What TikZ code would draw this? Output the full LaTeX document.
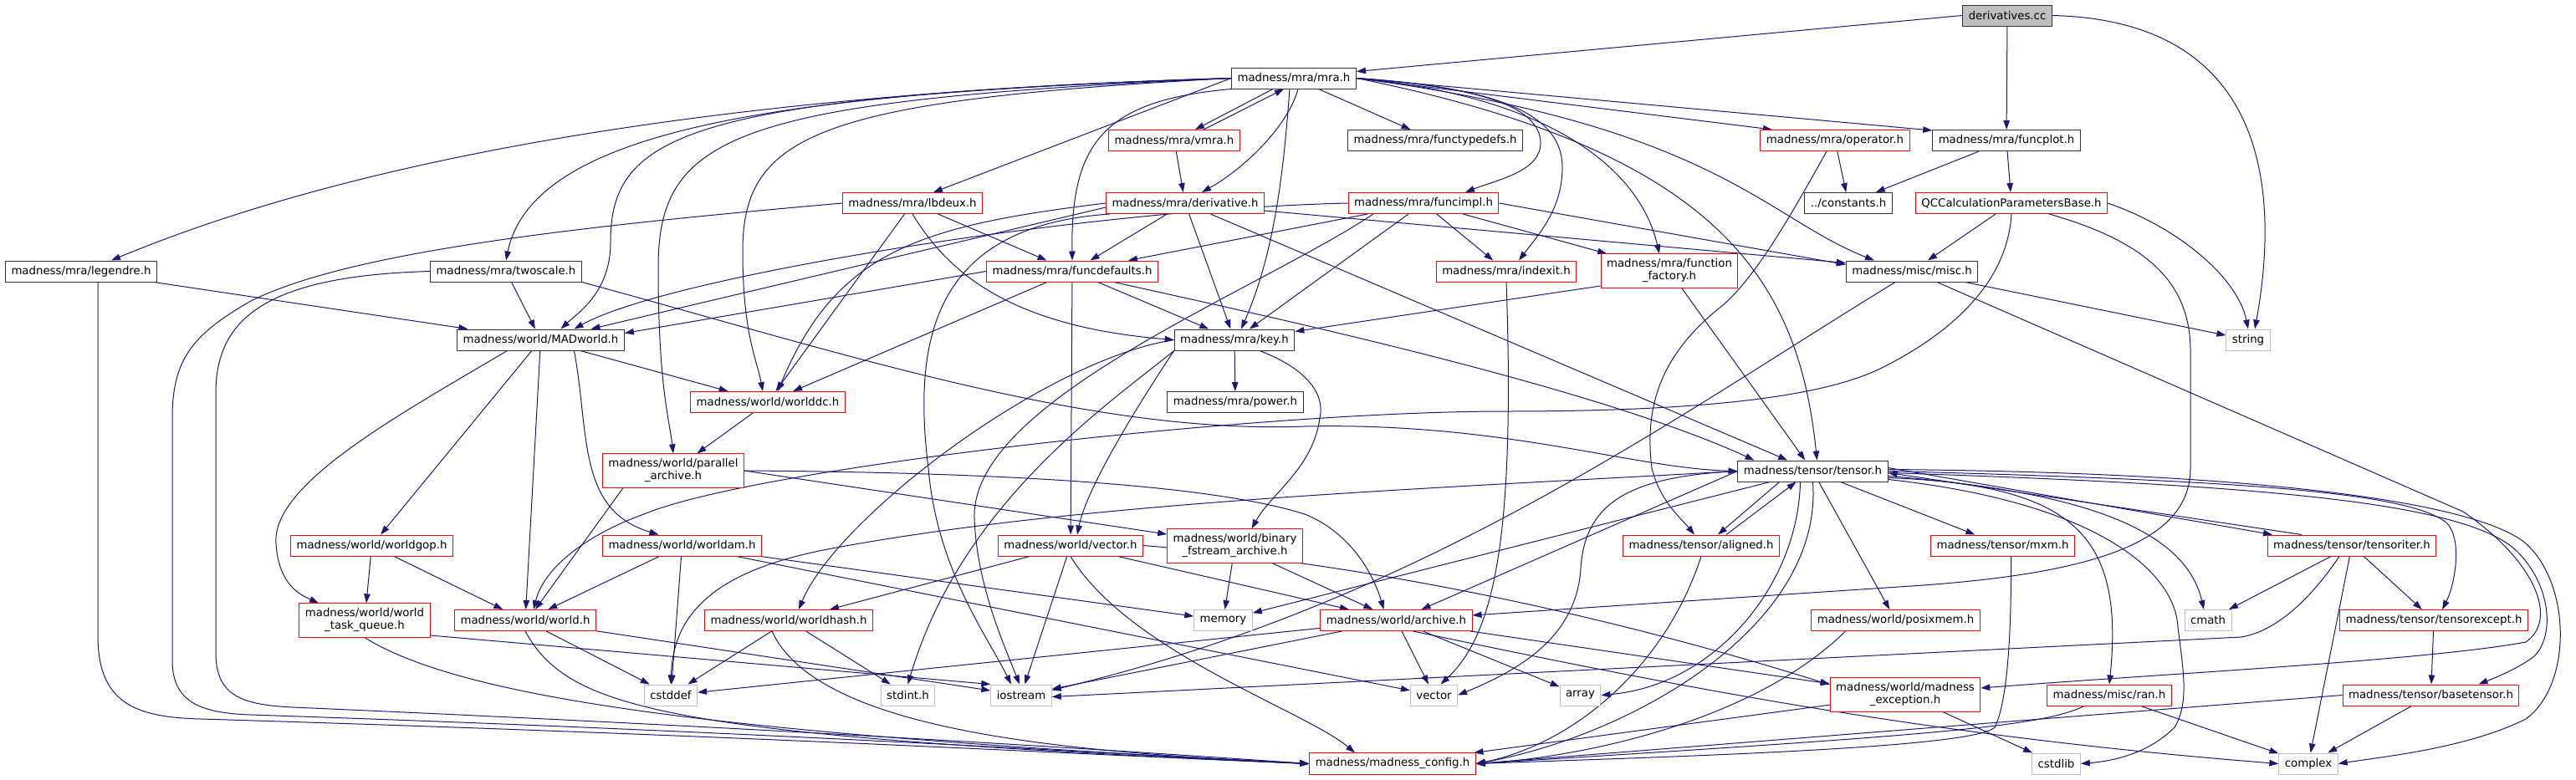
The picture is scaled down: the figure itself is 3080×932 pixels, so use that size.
\documentclass[tikz,border=0pt]{standalone}
\usepackage{fontspec}
\setmainfont{DejaVu Sans}
\usetikzlibrary{arrows.meta,backgrounds}
\definecolor{edgeblue}{HTML}{191970}
\definecolor{linkred}{HTML}{FF0000}
\definecolor{sysgrey}{HTML}{BFBFBF}
\definecolor{boxink}{HTML}{333333}

\begin{document}
\begin{tikzpicture}[x=1pt,y=-1pt,font=\fontsize{13.3}{15}\selectfont,
  hfile/.style={draw=boxink,fill=white,line width=1pt,minimum height=25pt,
                inner xsep=7pt,inner ysep=6pt,align=center},
  redfile/.style={hfile,draw=linkred},
  sysfile/.style={hfile,draw=sysgrey},
  rootfile/.style={hfile,fill=sysgrey},
  dep/.style={-{Triangle[length=11pt,width=7.5pt]},draw=edgeblue,line width=1pt}]

  \useasboundingbox (0,0) rectangle (3080,932);

  % source file and mra headers
  \node[rootfile] (dcc)   at (2400,18.5) {derivatives.cc};
  \node[hfile]    (mra)   at (1547,93.5) {madness/mra/mra.h};
  \node[redfile]  (vmra)  at (1404,168)  {madness/mra/vmra.h};
  \node[hfile]    (ftd)   at (1716,168)  {madness/mra/functypedefs.h};
  \node[redfile]  (oper)  at (2194,168)  {madness/mra/operator.h};
  \node[hfile]    (fplot) at (2399,168)  {madness/mra/funcplot.h};
  \node[redfile]  (lbdeux) at (1091,243) {madness/mra/lbdeux.h};
  \node[redfile]  (deriv) at (1417,243)  {madness/mra/derivative.h};
  \node[redfile]  (fimpl) at (1702,243)  {madness/mra/funcimpl.h};
  \node[hfile]    (const) at (2210,243)  {../constants.h};
  \node[redfile]  (qcc)   at (2405,243)  {QCCalculationParametersBase.h};
  \node[hfile]    (leg)   at (97,324.5)  {madness/mra/legendre.h};
  \node[hfile]    (twosc) at (605,324.5) {madness/mra/twoscale.h};
  \node[redfile]  (fdef)  at (1282,324.5) {madness/mra/funcdefaults.h};
  \node[redfile]  (idx)   at (1801,324.5) {madness/mra/indexit.h};
  \node[redfile]  (ffac)  at (1996,324)  {madness/mra/function\\\_factory.h};
  \node[hfile]    (misc)  at (2286,324.5) {madness/misc/misc.h};
  \node[hfile]    (key)   at (1476,406.5) {madness/mra/key.h};
  \node[hfile]    (pow)   at (1477,481)  {madness/mra/power.h};

  % world headers
  \node[hfile]    (madw)  at (646.5,406.5) {madness/world/MADworld.h};
  \node[redfile]  (wdc)   at (918,481)   {madness/world/worlddc.h};
  \node[redfile]  (par)   at (805,563)   {madness/world/parallel\\\_archive.h};
  \node[redfile]  (wgop)  at (444.5,652.5) {madness/world/worldgop.h};
  \node[redfile]  (wam)   at (815.5,652.5) {madness/world/worldam.h};
  \node[redfile]  (vec)   at (1280,652.5) {madness/world/vector.h};
  \node[redfile]  (bfa)   at (1476.5,653) {madness/world/binary\\\_fstream\_archive.h};
  \node[redfile]  (wtq)   at (436,742)   {madness/world/world\\\_task\_queue.h};
  \node[redfile]  (world) at (628,742)   {madness/world/world.h};
  \node[redfile]  (whash) at (943,742)   {madness/world/worldhash.h};
  \node[redfile]  (arch)  at (1669.5,742) {madness/world/archive.h};
  \node[redfile]  (posix) at (2266.5,742) {madness/world/posixmem.h};
  \node[redfile]  (mexc)  at (2278,831)  {madness/world/madness\\\_exception.h};
  \node[redfile]  (mcfg)  at (1665,913.5) {madness/madness\_config.h};

  % tensor headers
  \node[hfile]    (tens)  at (2167.5,563.5) {madness/tensor/tensor.h};
  \node[redfile]  (alig)  at (2034,652.5) {madness/tensor/aligned.h};
  \node[redfile]  (mxm)   at (2394.5,652.5) {madness/tensor/mxm.h};
  \node[redfile]  (titer) at (2812,652.5) {madness/tensor/tensoriter.h};
  \node[redfile]  (texc)  at (2910,742)  {madness/tensor/tensorexcept.h};
  \node[redfile]  (ran)   at (2522,831.5) {madness/misc/ran.h};
  \node[redfile]  (btens) at (2906.5,831.5) {madness/tensor/basetensor.h};

  % system headers
  \node[sysfile]  (str)     at (2688,406.5) {string};
  \node[sysfile]  (mem)     at (1462.5,742) {memory};
  \node[sysfile]  (cmath)   at (2640,742)  {cmath};
  \node[sysfile]  (cstddef) at (802,831.5) {cstddef};
  \node[sysfile]  (stdint)  at (1085.5,831.5) {stdint.h};
  \node[sysfile]  (iostr)   at (1221,831.5) {iostream};
  \node[sysfile]  (stdvec)  at (1714.5,831.5) {vector};
  \node[sysfile]  (array)   at (1889.5,831.5) {array};
  \node[sysfile]  (cstdlib) at (2458.5,913.5) {cstdlib};
  \node[sysfile]  (cplx)    at (2760,913.5) {complex};

  \begin{scope}[on background layer]
  % plain includes
  \foreach \src/\dst in {dcc/fplot, mra/ftd, vmra/deriv, lbdeux/fdef, lbdeux/wdc,
      deriv/fdef, deriv/key, deriv/tens, fimpl/key, fimpl/fdef, fimpl/idx, fimpl/ffac,
      fdef/wdc, fdef/key, fdef/vec, twosc/madw, leg/madw, madw/wgop, madw/world,
      madw/wdc, wdc/par, key/pow, ffac/tens, oper/const, fplot/const, fplot/qcc,
      qcc/misc, misc/str, tens/mxm, tens/posix, tens/mem, titer/cmath, titer/texc,
      titer/cplx, texc/btens, btens/cplx, ran/cplx, mexc/mcfg, mexc/cstdlib,
      wgop/wtq, wgop/world, world/cstddef, world/iostr, wam/world, wam/cstddef,
      wam/mem, wam/stdvec, whash/cstddef, whash/stdint, vec/whash, vec/iostr,
      vec/arch, bfa/mem, bfa/arch, arch/cstddef, arch/iostr, arch/stdvec,
      arch/array, arch/mexc}
    \draw[dep] (\src) -- (\dst);

  % from derivatives.cc and mra.h
  \draw[dep] (dcc.west) -- ([yshift=8pt]mra.east);
  \draw[dep] (dcc.east) .. controls (2725,25) and (2722,250) .. ([xshift=8pt]str.north);
  \draw[dep] (mra.west) -- ([xshift=25pt]lbdeux.north);
  \draw[dep] ([xshift=-25pt]mra.south) -- ([xshift=25pt]vmra.north);
  \draw[dep] ([xshift=35pt]vmra.north) -- ([xshift=-12pt]mra.south);
  \draw[dep] (mra.east) -- ([xshift=-75pt]oper.north);
  \draw[dep] (mra.east) -- ([yshift=12pt]fplot.west);
  \draw[dep] (mra.west) .. controls (900,110) and (450,180) .. ([xshift=36pt]leg.north);
  \draw[dep] (mra.west) .. controls (1000,110) and (640,140) .. (twosc.north);
  \draw[dep] (mra.west) .. controls (820,115) and (730,160) .. (730,290)
             .. controls (730,350) and (690,375) .. ([xshift=24pt]madw.north);
  \draw[dep] (mra.west) .. controls (880,120) and (787,160) .. (787,320)
             .. controls (787,460) and (800,500) .. (par.north);
  \draw[dep] (mra.west) .. controls (980,120) and (888,160) .. (888,300)
             .. controls (888,400) and (905,430) .. ([xshift=-6pt]wdc.north);
  \draw[dep] (mra.south west) .. controls (1320,120) and (1280,170) .. (fdef.north);
  \draw[dep] ([xshift=5pt]mra.south) .. controls (1540,150) and (1490,200) .. ([xshift=20pt]deriv.north);
  \draw[dep] ([xshift=-5pt]mra.south) .. controls (1535,200) and (1525,300) .. ([xshift=8pt]key.north);
  \draw[dep] (mra.east) .. controls (1780,105) and (1840,130) .. (1842,170)
             .. controls (1843,205) and (1790,215) .. ([xshift=50pt]fimpl.north);
  \draw[dep] (mra.east) .. controls (1800,105) and (1868,140) .. (1868,200)
             .. controls (1868,250) and (1840,280) .. ([xshift=15pt]idx.north);
  \draw[dep] (mra.east) .. controls (1850,115) and (1960,200) .. ([xshift=-12pt]ffac.north);
  \draw[dep] (mra.east) .. controls (2050,150) and (2110,260) .. ([xshift=-45pt]misc.north);
  \draw[dep] (mra.east) .. controls (2050,180) and (2150,330) .. ([xshift=5pt]tens.north);

  % mra layer
  \draw[dep] (qcc.east) .. controls (2600,270) and (2675,330) .. (str.north);
  \draw[dep] (lbdeux.south) .. controls (1130,320) and (1200,390) .. (key.west);
  \draw[dep] (fimpl.west) .. controls (1300,250) and (800,330) .. ([xshift=40pt]madw.north);
  \draw[dep] ([yshift=-5pt]deriv.west) -- ([xshift=60pt]madw.north);
  \draw[dep] (fdef.west) -- ([yshift=8pt]madw.east);
  \draw[dep] (deriv.west) .. controls (1100,270) and (1000,300) .. ([xshift=12pt]wdc.north);
  \draw[dep] ([xshift=-90pt]deriv.south) .. controls (1120,270) and (1090,400) .. (1110,560)
             .. controls (1120,680) and (1180,760) .. ([xshift=-12pt]iostr.north);
  \draw[dep] ([xshift=-60pt]fimpl.south) .. controls (1500,350) and (1160,480) .. (1165,620)
             .. controls (1168,700) and (1200,770) .. ([xshift=-2pt]iostr.north);
  \draw[dep] ([yshift=-9pt]deriv.east) -- ([yshift=10pt]misc.west);
  \draw[dep] (fimpl.east) -- ([yshift=8pt]misc.west);
  \draw[dep] ([xshift=50pt]fdef.south) .. controls (1500,375) and (1900,460) .. ([xshift=-70pt]tens.north);
  \draw[dep] (twosc.south east) .. controls (1000,420) and (1300,520) .. (1560,510)
             .. controls (1800,505) and (1950,560) .. (tens.west);
  \draw[dep] ([yshift=-18pt]ffac.west) -- ([yshift=10pt]key.east);
  \draw[dep] ([xshift=-10pt]oper.south) .. controls (2140,260) and (2100,330) .. (2060,365)
             .. controls (1990,420) and (1965,480) .. (1975,560)
             .. controls (1985,600) and (2010,620) .. ([xshift=-8pt]alig.north);
  \draw[dep] (qcc.south) .. controls (2400,340) and (2330,400) .. (2250,440)
             .. controls (2170,480) and (2000,492) .. (1800,492)
             .. controls (1500,492) and (900,560) .. (770,615)
             .. controls (700,640) and (650,680) .. ([xshift=10pt]world.north);
  \draw[dep] ([xshift=45pt]qcc.south) .. controls (2570,290) and (2619,340) .. (2619,420)
             -- (2619,560) .. controls (2619,650) and (2500,685) .. (2300,700)
             -- ([yshift=6pt]arch.east);
  \draw[dep] ([xshift=30pt]misc.south) -- (2945,612) .. controls (3030,670) and (3060,740) .. (3020,768)
             .. controls (2900,790) and (2600,805) .. ([yshift=8pt]mexc.east);
  \draw[dep] ([xshift=-20pt]misc.south) .. controls (2000,500) and (1700,720) .. ([yshift=6pt]iostr.east);

  % long ones down the left side
  \draw[dep] ([xshift=20pt]leg.south) .. controls (117,450) and (117,600) .. (117,760)
             .. controls (117,840) and (160,858) .. (240,860)
             .. controls (900,880) and (1300,903) .. (mcfg.west);
  \draw[dep] (lbdeux.west) .. controls (700,270) and (420,300) .. (300,360)
             .. controls (230,400) and (206,430) .. (206,500) -- (206,790)
             .. controls (206,840) and (240,853) .. (300,855)
             .. controls (900,875) and (1300,900) .. (mcfg.west);
  \draw[dep] (twosc.west) .. controls (320,330) and (258,380) .. (258,470) -- (258,780)
             .. controls (258,830) and (285,843) .. (350,846)
             .. controls (900,870) and (1300,895) .. (mcfg.west);

  % world layer
  \draw[dep] ([xshift=-40pt]madw.south) .. controls (470,500) and (325,580) .. (330,650)
             .. controls (333,700) and (360,712) .. ([xshift=-55pt]wtq.north);
  \draw[dep] ([xshift=40pt]madw.south) .. controls (705,520) and (690,610) .. ([xshift=-28pt]wam.north);
  \draw[dep] ([xshift=-60pt]par.south) -- ([xshift=12pt]world.north);
  \draw[dep] (par.east) -- ([yshift=14pt]bfa.west);
  \draw[dep] (par.east) .. controls (1200,565) and (1450,580) .. (1560,615)
             .. controls (1610,635) and (1640,680) .. ([xshift=-15pt]arch.north);
  \draw[dep] (key.west) .. controls (1250,430) and (1000,620) .. ([xshift=12pt]whash.north);
  \draw[dep] (key.south west) .. controls (1370,470) and (1300,580) .. ([xshift=8pt]vec.north);
  \draw[dep] (key.south west) .. controls (1330,480) and (1150,600) .. (stdint.north);
  \draw[dep] ([xshift=30pt]key.south) .. controls (1560,440) and (1585,470) .. (1578,500)
             .. controls (1570,560) and (1520,590) .. ([xshift=20pt]bfa.north);
  \draw[dep] (idx.south) .. controls (1812,650) and (1785,760) .. ([xshift=8pt]stdvec.north);
  \draw[dep] ([yshift=-18pt]wtq.east) -- (iostr.north west);
  \draw[dep] (wtq.south) .. controls (560,840) and (900,880) .. (mcfg.west);
  \draw[dep] (world.south) .. controls (680,850) and (800,880) .. (mcfg.west);
  \draw[dep] ([xshift=-20pt]whash.south) .. controls (980,880) and (1300,900) .. (mcfg.west);
  \draw[dep] (vec.south) .. controls (1350,780) and (1560,850) .. ([xshift=-45pt]mcfg.north);
  \draw[dep] (vec.east) .. controls (1700,680) and (2000,760) .. ([yshift=12pt]mexc.west);
  \draw[dep] ([xshift=20pt]arch.south) .. controls (2000,820) and (2300,880) .. (cplx.west);

  % tensor layer
  \draw[dep] ([yshift=4pt]tens.east) -- ([xshift=-95pt]titer.north);
  \draw[dep] ([xshift=-60pt]titer.north) -- ([yshift=-2pt]tens.east);
  \draw[dep] ([xshift=-40pt]tens.south) -- ([xshift=20pt]alig.north);
  \draw[dep] ([xshift=30pt]alig.north) -- ([xshift=-20pt]tens.south);
  \draw[dep] (tens.west) -- ([xshift=30pt]arch.north);
  \draw[dep] ([yshift=-6pt]tens.east) .. controls (2450,585) and (2610,620) .. ([xshift=-5pt]cmath.north);
  \draw[dep] ([yshift=-8pt]tens.east) .. controls (2480,580) and (2540,640) .. (ran.north);
  \draw[dep] (tens.east) .. controls (2700,575) and (2880,590) .. (2925,625)
             .. controls (2945,645) and (2935,700) .. ([xshift=10pt]texc.north);
  \draw[dep] ([yshift=-2pt]tens.east) .. controls (2700,580) and (2950,600) .. (3010,660)
             .. controls (3050,700) and (3055,760) .. (3030,785)
             .. controls (3010,800) and (2985,810) .. ([xshift=57pt]btens.north);
  \draw[dep] ([yshift=2pt]tens.east) .. controls (2700,565) and (2960,600) .. (3020,650)
             .. controls (3075,700) and (3075,820) .. (3020,860)
             .. controls (2950,895) and (2850,905) .. (cplx.east);
  \draw[dep] ([yshift=-10pt]tens.east) .. controls (2500,600) and (2600,680) .. (2604,750)
             .. controls (2610,800) and (2618,840) .. (2600,870)
             .. controls (2570,900) and (2530,910) .. (cstdlib.east);
  \draw[dep] (tens.west) .. controls (1950,570) and (1895,600) .. (1890,680)
             .. controls (1885,760) and (1820,800) .. (stdvec.east);
  \draw[dep] ([xshift=-15pt]tens.south) .. controls (2150,700) and (2050,820) .. (array.east);
  \draw[dep] (tens.west) .. controls (1700,585) and (1300,600) .. (1000,655)
             .. controls (860,680) and (805,730) .. (cstddef.north);
  \draw[dep] (tens.south) .. controls (2180,750) and (1950,880) .. (mcfg.east);
  \draw[dep] (alig.south) .. controls (1990,800) and (1880,890) .. (mcfg.east);
  \draw[dep] ([xshift=10pt]mxm.south) .. controls (2405,760) and (2400,840) .. (2385,870)
             .. controls (2360,895) and (2000,905) .. (mcfg.east);
  \draw[dep] ([xshift=-60pt]posix.south) .. controls (2100,860) and (1900,905) .. (mcfg.east);
  \draw[dep] ([xshift=-30pt]ran.south) .. controls (2440,870) and (2300,880) .. (mcfg.east);
  \draw[dep] (btens.west) -- (mcfg.east);
  \draw[dep] ([xshift=-15pt]titer.south) .. controls (2760,720) and (2720,755) .. (2680,762)
             -- ([yshift=-2pt]iostr.east);
  \end{scope}
\end{tikzpicture}
\end{document}
